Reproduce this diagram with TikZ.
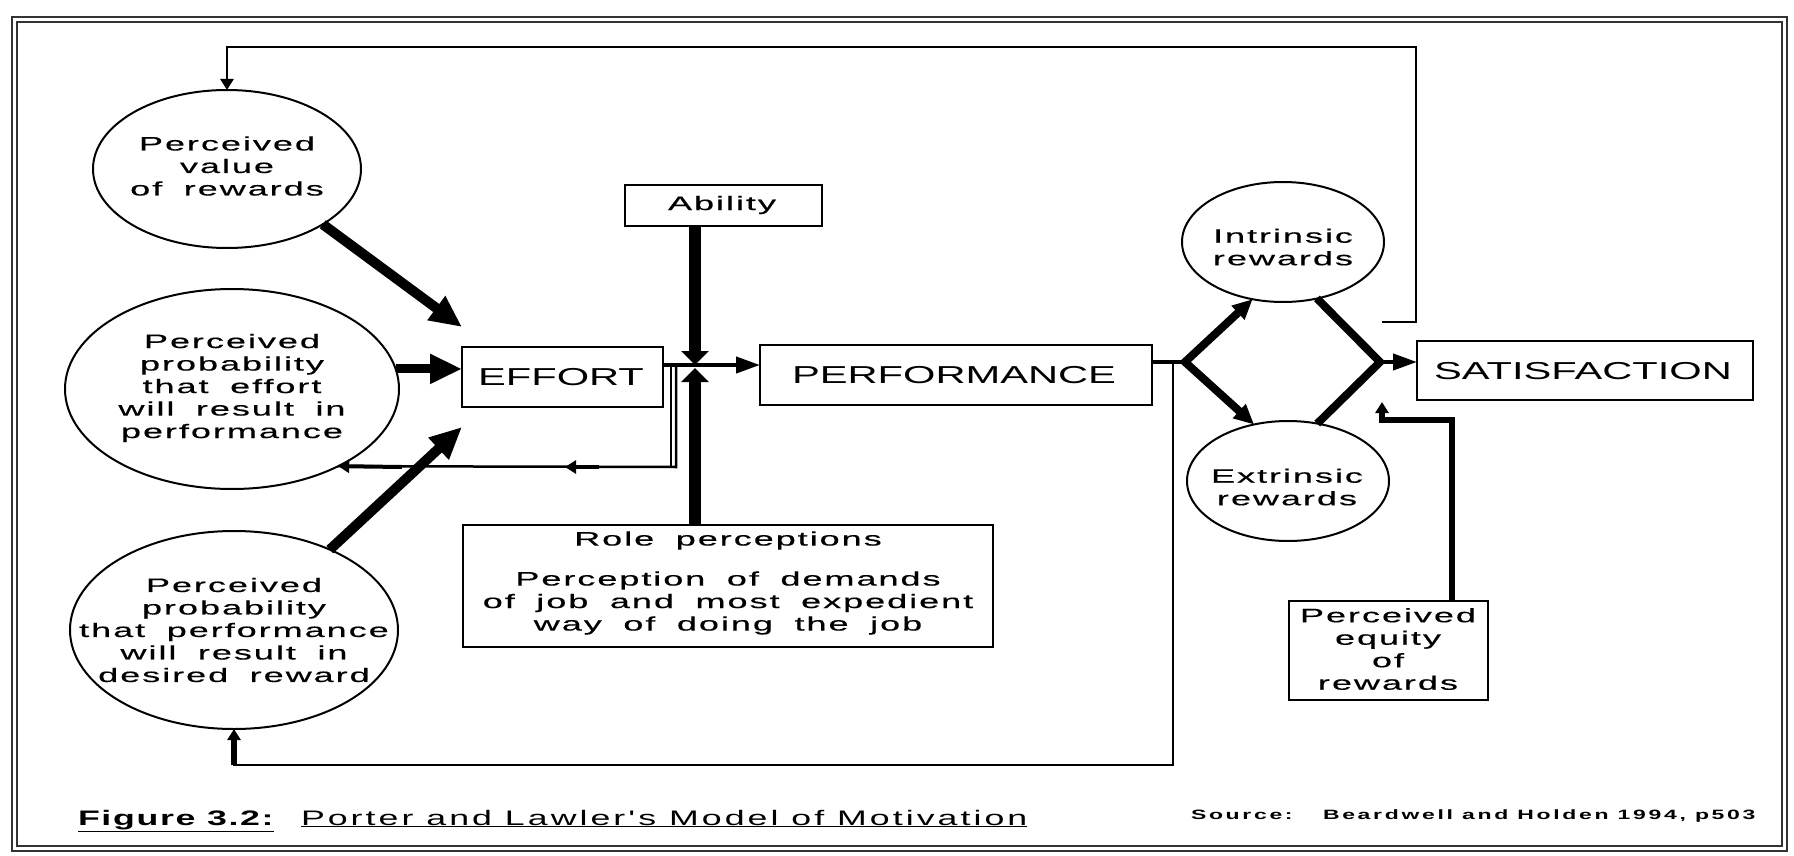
\documentclass[tikz,border=0pt]{standalone}
\usepackage{fontspec}
\setmainfont{Liberation Sans}[FakeStretch=1.7]
\newfontfamily\widefont{Liberation Sans}[FakeStretch=1.85,LetterSpace=10,WordSpace=1.8,FakeBold=0.4]
\newfontfamily\captionfont{Liberation Sans}[FakeStretch=1.7,LetterSpace=14.5]
\newfontfamily\labelfont{Liberation Sans}[FakeStretch=1.7,LetterSpace=8]
\newfontfamily\sourcefont{Liberation Sans}[FakeStretch=1.7,LetterSpace=20]
\usetikzlibrary{shapes.geometric,arrows.meta,calc}

\begin{document}
\begin{tikzpicture}[x=1pt,y=-1pt,
  every node/.style={inner sep=0pt,outer sep=0pt},
  rbox/.style={draw,line width=2pt,rectangle},
  ovalnode/.style={draw,ellipse,line width=2pt},
  smalltext/.style={font=\widefont\fontsize{19.5}{22.5}\selectfont,align=center},
  bigtext/.style={font=\fontsize{24.5}{28}\selectfont},
  thinlink/.style={line width=2.5pt},
  heavyline/.style={line width=10pt},
  pillar/.style={line width=12.5pt},
  framerule/.style={line width=1.5pt,black!80},
  heavytip/.tip={Triangle[length=32pt,width=28pt]},
  flattip/.tip={Triangle[length=14pt,width=27pt]},
  midtip/.tip={Triangle[length=24pt,width=16pt]},
  splittip/.tip={Triangle[length=20pt,width=18pt]},
  smalltip/.tip={Triangle[length=11pt,width=13pt]},
]
\fill[white] (0,0) rectangle (1794,856);
\useasboundingbox (0,0) rectangle (1794,856);

% double frame
\draw[framerule] (12,17) rectangle (1787,851);
\draw[framerule] (17,22) rectangle (1782,846);

% expectancy ellipses on the left
\node[ovalnode,minimum width=268pt,minimum height=158pt] (pv) at (227,169) {};
\node[smalltext] (pvT) at (227,166) {Perceived\\value\\of rewards};

\node[ovalnode,minimum width=334pt,minimum height=200pt] (pp) at (232,389) {};
\node[smalltext] (ppT) at (232,388) {Perceived\\probability\\that effort\\will result in\\performance};

\node[ovalnode,minimum width=328pt,minimum height=198pt] (pr) at (234,630) {};
\node[smalltext] (prT) at (234,630) {Perceived\\probability\\that performance\\will result in\\desired reward};

% main chain
\node[rbox,minimum width=201pt,minimum height=60pt] (eff) at (562.5,377) {};
\node[bigtext] (effT) at (561,377.5) {EFFORT};

\node[rbox,minimum width=392pt,minimum height=60pt] (perf) at (956,375) {};
\node[bigtext] (perfT) at (954,375.5) {PERFORMANCE};

\node[rbox,minimum width=336pt,minimum height=59pt] (sat) at (1585,370.5) {};
\node[bigtext] (satT) at (1583,371) {SATISFACTION};

\node[rbox,minimum width=197pt,minimum height=41pt] (abil) at (723.5,205.5) {};
\node[smalltext] (abilT) at (722,205) {Ability};

\node[rbox,minimum width=530pt,minimum height=122pt] (role) at (728,586) {};
\node[smalltext] (roleT) at (728,583) {Role perceptions\\[17.5pt]Perception of demands\\of job and most expedient\\way of doing the job};

% reward ellipses and equity box
\node[ovalnode,minimum width=202pt,minimum height=120pt] (int) at (1283,242) {};
\node[smalltext] (intT) at (1283,247) {Intrinsic\\rewards};

\node[ovalnode,minimum width=202pt,minimum height=120pt] (ext) at (1288,481) {};
\node[smalltext] (extT) at (1287,487) {Extrinsic\\rewards};

\node[rbox,minimum width=199pt,minimum height=99pt] (eq) at (1388.5,650.5) {};
\node[smalltext] (eqT) at (1388,649) {Perceived\\equity\\of\\rewards};

% junction and bend points
\coordinate (jn) at (695,365);
\coordinate (effA) at ($(eff.north west)+(0,-20)$);
\coordinate (effB) at ($(eff.south west)+(0,20)$);
\coordinate (split) at (1185,362);
\coordinate (merge) at (1380,362);
\coordinate (fbstart) at (1382,322);
\coordinate (fbR) at (1416,47);
\coordinate (fbE) at (676,467);
\coordinate (fbEi) at (671,467);
\coordinate (m1) at (599,467);
\coordinate (m1tip) at (565,467);
\coordinate (m2) at (402,467);
\coordinate (drop) at (1173,765);
\coordinate (eqbend) at (1452,420);
\coordinate (eqtip) at (1382,402);

% heavy inputs to effort
\draw[heavyline,-heavytip] (pv.-30) -- (effA);
\draw[line width=9pt,-heavytip] (pp.7) -- (pp.7 -| eff.west);
\draw[heavyline,-heavytip] (pr.40) -- (effB);

% feedback from the effort/performance link back to the probability ellipse
\draw[line width=1.8pt] (jn -| fbEi) -- (fbEi);
\draw[thinlink] (jn -| fbE) -- (fbE) -- (pp.-36.7);
\draw[line width=4pt,-smalltip] (m1) -- (m1tip);
\draw[line width=4pt,-smalltip] (m2) -- (pp.-36.7);

% effort to performance, with ability and role perceptions
\draw[line width=4pt,-midtip] (eff.east |- jn) -- (perf.west |- jn);
\draw[pillar,-flattip] (abil.south -| jn) -- (jn);
\draw[pillar,-flattip] (role.north -| jn) -- ($(jn)+(0,3)$);

% performance to rewards to satisfaction
\draw[line width=4.5pt] (perf.east |- split) -- (split);
\draw[line width=8pt,splittip-splittip] (int.242.7) -- (split) -- (ext.121);
\draw[line width=8pt] (int.-59.7) -- (merge) -- (ext.63.4);
\draw[line width=4pt,-midtip] (merge) -- (merge -| sat.west);

% equity feeding satisfaction
\draw[line width=6pt,-smalltip] (eq.north -| eqbend) -- (eqbend) -- (eqbend -| eqtip) -- (eqtip);

% satisfaction back to perceived value
\draw[thinlink,-smalltip] (fbstart) -| (fbR) -| (pv.north);

% performance back to perceived probability of reward
\draw[thinlink] (split -| drop) -- (drop) -| (pr.south);
\draw[line width=6pt,-smalltip] (pr.south |- drop) -- (pr.south);

% caption line
\node[anchor=base west,font=\labelfont\bfseries\fontsize{21}{24}\selectfont] (figlbl) at (78,825) {\underline{Figure 3.2:}};
\node[anchor=base west,font=\captionfont\fontsize{21}{24}\selectfont] (figttl) at (301,825) {\underline{Porter and Lawler's Model of Motivation}};
\node[anchor=base west,font=\sourcefont\bfseries\fontsize{13.5}{16}\selectfont] (srclbl) at (1191,819) {Source:};
\node[anchor=base west,font=\sourcefont\bfseries\fontsize{13.5}{16}\selectfont] (srctxt) at (1323,819) {Beardwell and Holden 1994, p503};
\end{tikzpicture}
\end{document}
